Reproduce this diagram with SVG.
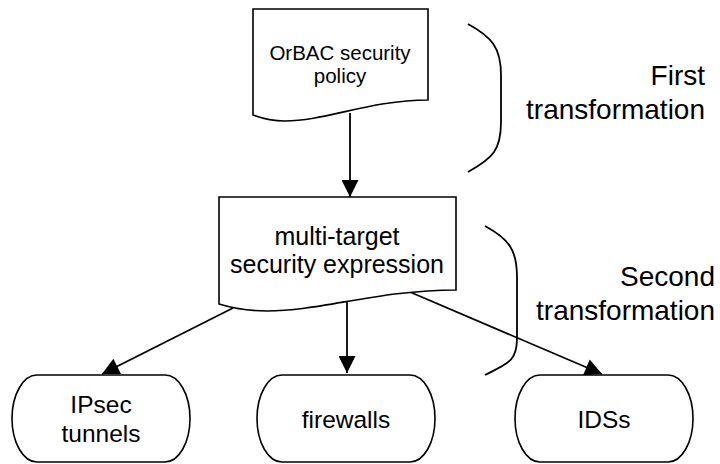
<svg xmlns="http://www.w3.org/2000/svg" width="720" height="464" viewBox="0 0 720 464">
  <style>
    .shape { fill: #ffffff; stroke: #000000; stroke-width: 1.6; }
    .edge { fill: none; stroke: #000000; stroke-width: 1.8; }
    .brace { fill: none; stroke: #000000; stroke-width: 1.8; }
    text { font-family: "Liberation Sans", Arial, Helvetica, sans-serif; fill: #000000; }
    .c { text-anchor: middle; }
    .r { text-anchor: end; font-size: 28px; }
  </style>
  <defs>
    <marker id="arrow" viewBox="0 0 10 10" refX="10" refY="5" markerUnits="userSpaceOnUse" markerWidth="18" markerHeight="17" orient="auto">
      <path d="M0,0 L10,5 L0,10 Z" fill="#000000"/>
    </marker>
  </defs>

  <rect width="720" height="464" fill="#ffffff"/>

  <!-- connectors -->
  <g id="connectors">
    <line class="edge" x1="350" y1="113" x2="350" y2="197" marker-end="url(#arrow)"/>
    <line class="edge" x1="347" y1="301" x2="347" y2="373" marker-end="url(#arrow)"/>
    <line class="edge" x1="233" y1="308" x2="102" y2="374" marker-end="url(#arrow)"/>
    <line class="edge" x1="410" y1="292" x2="602" y2="374" marker-end="url(#arrow)"/>
  </g>

  <!-- document nodes -->
  <g id="orbac-policy">
    <path class="shape" d="M253,9 H428 V100 C371,100 325,121 285,121 C271,121 261,118 253,115 Z"/>
    <text class="c" x="340" y="60" font-size="20.5">OrBAC security</text>
    <text class="c" x="340" y="83" font-size="20.5">policy</text>
  </g>

  <g id="multi-target">
    <path class="shape" d="M219,197 H456 V290 C380,290 320,311 267,311 C250,311 232,308 219,304 Z"/>
    <text class="c" x="337" y="245" font-size="25">multi-target</text>
    <text class="c" x="337" y="273" font-size="25">security expression</text>
  </g>

  <!-- target nodes -->
  <g id="ipsec">
    <rect class="shape" x="12" y="375" width="178" height="87" rx="25" ry="43.5"/>
    <text class="c" x="101" y="413" font-size="24.5">IPsec</text>
    <text class="c" x="101" y="442" font-size="24.5">tunnels</text>
  </g>

  <g id="firewalls">
    <rect class="shape" x="257" y="375" width="178" height="87" rx="25" ry="43.5"/>
    <text class="c" x="346" y="428" font-size="24.5">firewalls</text>
  </g>

  <g id="idss">
    <rect class="shape" x="515" y="375" width="178" height="87" rx="25" ry="43.5"/>
    <text class="c" x="604" y="428" font-size="24.5">IDSs</text>
  </g>

  <!-- transformation braces and labels -->
  <g id="first-transformation">
    <path class="brace" d="M468,24 C492,37 501,48 501,75 V122 C501,150 493,158 468,172"/>
    <text class="r" x="705" y="85">First</text>
    <text class="r" x="705" y="119">transformation</text>
  </g>

  <g id="second-transformation">
    <path class="brace" d="M485,226 C509,239 517,250 517,277 V338 C517,361 509,363 485,375"/>
    <text class="r" x="715" y="286">Second</text>
    <text class="r" x="715" y="320">transformation</text>
  </g>
</svg>
